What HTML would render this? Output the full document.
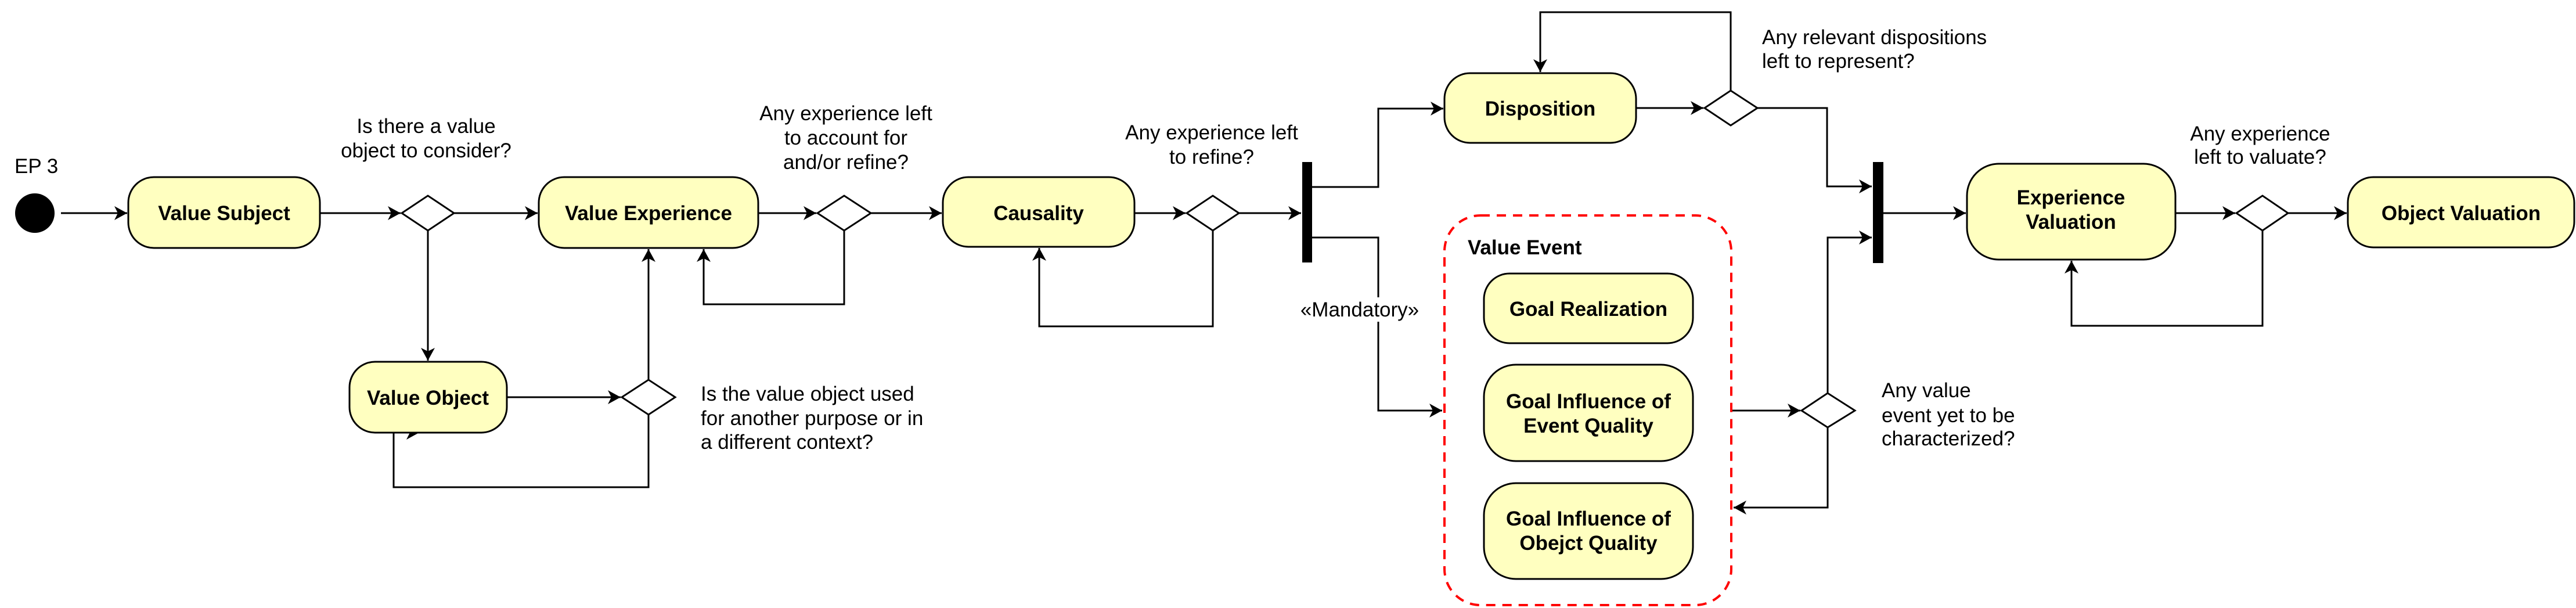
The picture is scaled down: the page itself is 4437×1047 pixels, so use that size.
<!DOCTYPE html>
<html><head><meta charset="utf-8"><style>
html,body{margin:0;padding:0;background:#fff;}
svg{display:block;}
text{font-family:"Liberation Sans",Arial,sans-serif;font-size:35px;fill:#000;}
.b{font-weight:bold;}
.box{fill:#FFFFC0;stroke:#000;stroke-width:3;}
.ln{fill:none;stroke:#000;stroke-width:3;}
.dm{fill:#fff;stroke:#000;stroke-width:3;}
</style></head><body>
<svg width="4437" height="1047" viewBox="0 0 4437 1047" xmlns="http://www.w3.org/2000/svg">
<defs>
<marker id="a" markerUnits="userSpaceOnUse" markerWidth="30" markerHeight="30" refX="22" refY="12" orient="auto">
<path d="M0,0 L22,12 L0,24 L6,12 Z" fill="#000"/>
</marker>
</defs>

<!-- start -->
<circle cx="60" cy="367" r="34" fill="#000"/>
<text x="25" y="298">EP 3</text>

<!-- connectors -->
<line class="ln" x1="105" y1="367" x2="219" y2="367" marker-end="url(#a)"/>
<line class="ln" x1="551" y1="367" x2="690" y2="367" marker-end="url(#a)"/>
<line class="ln" x1="782" y1="367" x2="926" y2="367" marker-end="url(#a)"/>
<line class="ln" x1="1306" y1="367" x2="1406" y2="367" marker-end="url(#a)"/>
<line class="ln" x1="1500" y1="367" x2="1622" y2="367" marker-end="url(#a)"/>
<polyline class="ln" points="1454,397 1454,524 1212,524 1212,429" marker-end="url(#a)"/>
<line class="ln" x1="737" y1="397" x2="737" y2="621" marker-end="url(#a)"/>
<line class="ln" x1="873" y1="684" x2="1069" y2="684" marker-end="url(#a)"/>
<line class="ln" x1="1117" y1="654" x2="1117" y2="429" marker-end="url(#a)"/>
<polyline class="ln" points="1117,714 1117,839 678,839 678,745 722,745" marker-end="url(#a)"/>

<line class="ln" x1="1954" y1="367" x2="2042" y2="367" marker-end="url(#a)"/>
<line class="ln" x1="2134" y1="367" x2="2241" y2="367" marker-end="url(#a)"/>
<polyline class="ln" points="2089,397 2089,562 1790,562 1790,427" marker-end="url(#a)"/>
<polyline class="ln" points="2260,322 2374,322 2374,187 2486,187" marker-end="url(#a)"/>
<polyline class="ln" points="2260,409 2374,409 2374,707 2484,707" marker-end="url(#a)"/>
<rect x="2238" y="512" width="210" height="42" fill="#fff"/>
<text x="2342" y="545" text-anchor="middle">«Mandatory»</text>

<line class="ln" x1="2818" y1="186" x2="2934" y2="186" marker-end="url(#a)"/>
<polyline class="ln" points="2981,156 2981,21 2653,21 2653,124" marker-end="url(#a)"/>
<polyline class="ln" points="3027,186 3147,186 3147,321 3224,321" marker-end="url(#a)"/>
<polyline class="ln" points="3148,677 3148,409 3224,409" marker-end="url(#a)"/>
<line class="ln" x1="2984" y1="707" x2="3101" y2="707" marker-end="url(#a)"/>
<polyline class="ln" points="3148,736 3148,874 2986,874" marker-end="url(#a)"/>

<line class="ln" x1="3244" y1="367" x2="3386" y2="367" marker-end="url(#a)"/>
<line class="ln" x1="3747" y1="367" x2="3850" y2="367" marker-end="url(#a)"/>
<line class="ln" x1="3941" y1="367" x2="4042" y2="367" marker-end="url(#a)"/>
<polyline class="ln" points="3897,397 3897,561 3568,561 3568,449" marker-end="url(#a)"/>

<!-- bars -->
<rect x="2243" y="279" width="17" height="173" fill="#000"/>
<rect x="3226" y="279" width="18" height="174" fill="#000"/>

<!-- diamonds -->
<polygon class="dm" points="692,367 737,337 782,367 737,397"/>
<polygon class="dm" points="1408,367 1454,337 1500,367 1454,397"/>
<polygon class="dm" points="1071,684 1117,654 1163,684 1117,714"/>
<polygon class="dm" points="2044,367 2089,337 2134,367 2089,397"/>
<polygon class="dm" points="2936,186 2981,156 3027,186 2981,216"/>
<polygon class="dm" points="3103,707 3148,677 3195,707 3148,736"/>
<polygon class="dm" points="3852,367 3897,337 3941,367 3897,397"/>

<!-- boxes -->
<rect class="box" x="221" y="305" width="330" height="122" rx="44"/>
<text class="b" x="386" y="379" text-anchor="middle">Value Subject</text>
<rect class="box" x="928" y="305" width="378" height="122" rx="44"/>
<text class="b" x="1117" y="379" text-anchor="middle">Value Experience</text>
<rect class="box" x="602" y="623" width="271" height="122" rx="44"/>
<text class="b" x="737" y="697" text-anchor="middle">Value Object</text>
<rect class="box" x="1624" y="305" width="330" height="120" rx="44"/>
<text class="b" x="1789" y="379" text-anchor="middle">Causality</text>
<rect class="box" x="2488" y="126" width="330" height="120" rx="44"/>
<text class="b" x="2653" y="199" text-anchor="middle">Disposition</text>
<rect class="box" x="3388" y="282" width="359" height="165" rx="55"/>
<text class="b" x="3567" y="352" text-anchor="middle">Experience</text>
<text class="b" x="3567" y="394" text-anchor="middle">Valuation</text>
<rect class="box" x="4044" y="305" width="390" height="121" rx="44"/>
<text class="b" x="4239" y="379" text-anchor="middle">Object Valuation</text>

<!-- container -->
<rect x="2488" y="371" width="494" height="671" rx="62" fill="none" stroke="#f00" stroke-width="4" stroke-dasharray="16,12"/>
<text class="b" x="2528" y="438">Value Event</text>
<rect class="box" x="2556" y="471" width="360" height="120" rx="44"/>
<text class="b" x="2736" y="544" text-anchor="middle">Goal Realization</text>
<rect class="box" x="2556" y="628" width="360" height="166" rx="55"/>
<text class="b" x="2736" y="703" text-anchor="middle">Goal Influence of</text>
<text class="b" x="2736" y="745" text-anchor="middle">Event Quality</text>
<rect class="box" x="2556" y="832" width="360" height="165" rx="55"/>
<text class="b" x="2736" y="905" text-anchor="middle">Goal Influence of</text>
<text class="b" x="2736" y="947" text-anchor="middle">Obejct Quality</text>

<!-- labels -->
<text x="734" y="229" text-anchor="middle">Is there a value</text>
<text x="734" y="271" text-anchor="middle">object to consider?</text>
<text x="1457" y="207" text-anchor="middle">Any experience left</text>
<text x="1457" y="249" text-anchor="middle">to account for</text>
<text x="1457" y="291" text-anchor="middle">and/or refine?</text>
<text x="1207" y="690">Is the value object used</text>
<text x="1207" y="732">for another purpose or in</text>
<text x="1207" y="773">a different context?</text>
<text x="2087" y="240" text-anchor="middle">Any experience left</text>
<text x="2087" y="282" text-anchor="middle">to refine?</text>
<text x="3035" y="76">Any relevant dispositions</text>
<text x="3035" y="117">left to represent?</text>
<text x="3893" y="242" text-anchor="middle">Any experience</text>
<text x="3893" y="282" text-anchor="middle">left to valuate?</text>
<text x="3241" y="684">Any value</text>
<text x="3241" y="727">event yet to be</text>
<text x="3241" y="767">characterized?</text>
</svg>
</body></html>
